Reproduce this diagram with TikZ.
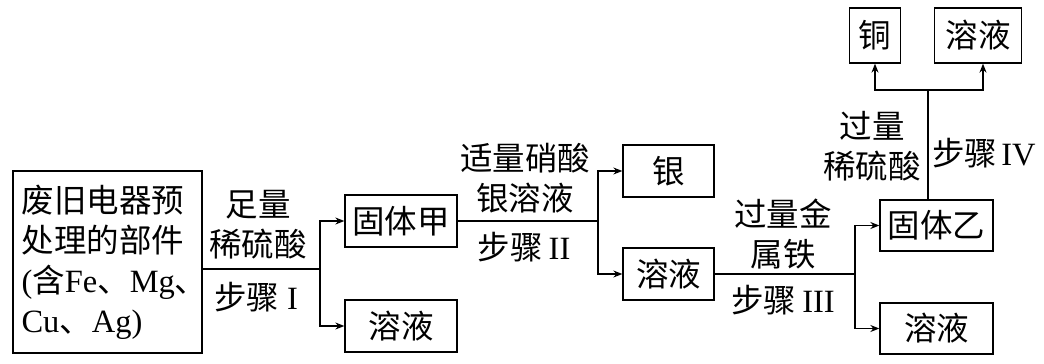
\documentclass[tikz,border=0pt]{standalone}
\usepackage{fontspec}
\setmainfont{Liberation Serif}
\newfontfamily\cjk{Noto Sans CJK SC}
\newfontfamily\lat{Liberation Serif}
\usetikzlibrary{arrows.meta}
\begin{document}
\begin{tikzpicture}[x=1pt,y=-1pt,
  box/.style={draw,line width=1.3pt,inner sep=0pt,font=\cjk\fontsize{32.5}{40}\selectfont},
  lbl/.style={inner sep=0pt,align=center,font=\cjk\fontsize{32.5}{40}\selectfont},
  ln/.style={line width=1.3pt},
  arr/.style={line width=1.3pt,-{Stealth[length=9pt,width=7pt]}}]
\useasboundingbox (0,0) rectangle (1044,364);
% boxes
\node[box,minimum width=189pt,minimum height=182pt,text width=172pt,align=left] (src) at (107.5,262)
  {废旧电器预\\处理的部件\\{\lat(}含{\lat Fe}、{\lat Mg}、\\{\lat Cu}、{\lat Ag)}};
\node[box,minimum width=112pt,minimum height=52pt] (jia) at (401,221) {固体甲};
\node[box,minimum width=112pt,minimum height=52pt] (sola) at (401,326) {溶液};
\node[box,minimum width=91pt,minimum height=52pt] (yin) at (668.5,171) {银};
\node[box,minimum width=91pt,minimum height=52pt] (solb) at (668.5,274) {溶液};
\node[box,minimum width=113pt,minimum height=51pt] (yi) at (936.5,225.5) {固体乙};
\node[box,minimum width=113pt,minimum height=51pt] (solc) at (936.5,328.5) {溶液};
\node[box,minimum width=51pt,minimum height=55pt] (tong) at (875,35.5) {铜};
\node[box,minimum width=87pt,minimum height=55pt] (sold) at (978,35.5) {溶液};
% junctions
\coordinate (j1) at (320,269);
\coordinate (j2) at (598,221);
\coordinate (j3) at (855,274);
\coordinate (j4) at (928,90);
\coordinate (j4b) at (928,200);
\draw[ln] (src.east |- j1) -- (j1);
\draw[arr] (j1) |- (jia.west);
\draw[arr] (j1) |- (sola.west);
\draw[ln] (jia.east) -- (j2);
\draw[arr] (j2) |- (yin.west);
\draw[arr] (j2) |- (solb.west);
\draw[ln] (solb.east) -- (j3);
\draw[arr] (j3) |- (yi.west);
\draw[arr] (j3) |- (solc.west);
\draw[ln] (j4b) -- (j4);
\draw[arr] (j4) -| (tong.south);
\draw[arr] (j4) -| ([xshift=5pt]sold.south);
% labels
\node[lbl] (l1) at (258,225) {足量\\稀硫酸};
\node[lbl] (s1) at (256,297) {步骤\hspace{8pt}{\lat I}};
\node[lbl] (l2) at (525,178) {适量硝酸\\银溶液};
\node[lbl] (s2) at (524,247) {步骤\hspace{6pt}{\lat II}};
\node[lbl] (l3) at (783,234) {过量金\\属铁};
\node[lbl] (s3) at (783,300) {步骤\hspace{6pt}{\lat III}};
\node[lbl] (l4) at (872,146) {过量\\稀硫酸};
\node[lbl] (s4) at (984,153) {步骤\hspace{4pt}{\lat IV}};
\end{tikzpicture}
\end{document}
